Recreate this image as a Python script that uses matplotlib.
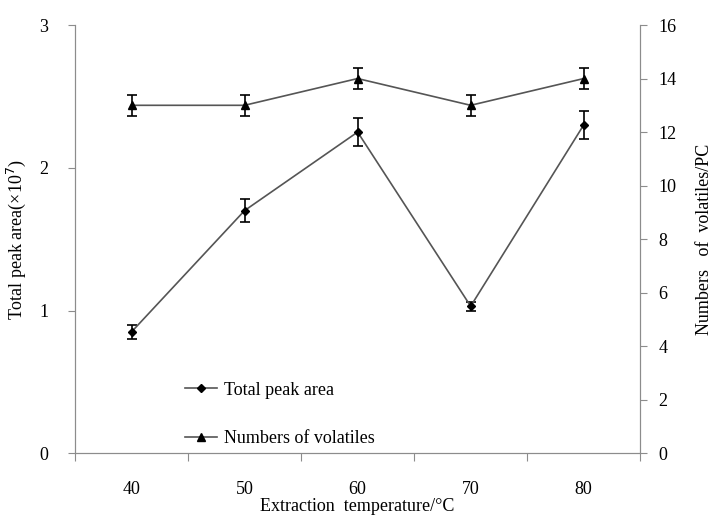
import matplotlib
matplotlib.use("Agg")
import matplotlib.pyplot as plt
from matplotlib.lines import Line2D
import numpy as np

# Extraction temperature series
temps = [40, 50, 60, 70, 80]
peak_area = [0.85, 1.70, 2.25, 1.03, 2.30]       # x10^7
peak_area_err = [0.05, 0.08, 0.10, 0.03, 0.10]
n_volatiles = [13, 13, 14, 13, 14]
n_volatiles_err = [0.4, 0.4, 0.4, 0.4, 0.4]

plt.rcParams["font.family"] = ["Liberation Serif", "DejaVu Serif"]
plt.rcParams["font.size"] = 13

AXIS_GREY = "#8c8c8c"
LINE_GREY = "#555555"

fig = plt.figure(figsize=(7.21, 5.21), dpi=100)
ax = fig.add_axes([0.104, 0.13, 0.784, 0.822])
ax2 = ax.twinx()

x = np.arange(len(temps))

ax.errorbar(x, peak_area, yerr=peak_area_err, color=LINE_GREY, lw=1.2,
            marker="D", ms=4.5, mfc="black", mec="black",
            ecolor="black", elinewidth=1.2, capsize=3.5, capthick=1.2)
ax2.errorbar(x, n_volatiles, yerr=n_volatiles_err, color=LINE_GREY, lw=1.2,
             marker="^", ms=6, mfc="black", mec="black",
             ecolor="black", elinewidth=1.2, capsize=3.5, capthick=1.2)

ax.set_xlim(-0.5, len(temps) - 0.5)
ax.set_ylim(0, 3)
ax.set_yticks([0, 1, 2, 3])
ax2.set_ylim(0, 16)
ax2.set_yticks(np.arange(0, 17, 2))

# category axis: ticks sit between categories, labels centred on them
ax.set_xticks(np.arange(-0.5, len(temps), 1.0))
ax.set_xticklabels([])
ax.set_xticks(x, minor=True)
ax.set_xticklabels([str(t) for t in temps], minor=True)
ax.tick_params(axis="x", which="minor", length=0, pad=20)
ax.tick_params(axis="x", which="major", length=6, direction="out",
               color=AXIS_GREY)

for a in (ax, ax2):
    a.spines["top"].set_visible(False)
    for side in ("left", "right", "bottom"):
        a.spines[side].set_color(AXIS_GREY)
ax.tick_params(axis="y", length=5, color=AXIS_GREY, pad=14)
ax2.tick_params(axis="y", length=5, color=AXIS_GREY, pad=8)

ax.set_xlabel("Extraction  temperature/°C", labelpad=0)
ax.set_ylabel("Total peak area(×10$^7$)", labelpad=8)
ax2.set_ylabel("Numbers   of  volatiles/PC", labelpad=14)

handles = [
    Line2D([], [], color=LINE_GREY, lw=1.2, marker="D", ms=4.5,
           mfc="black", mec="black"),
    Line2D([], [], color=LINE_GREY, lw=1.2, marker="^", ms=6,
           mfc="black", mec="black"),
]
ax.legend(handles, ["Total peak area", "Numbers of volatiles"],
          loc="upper left", bbox_to_anchor=(0.165, 0.205), frameon=False,
          handlelength=1.8, handletextpad=0.4, labelspacing=1.75, fontsize=13)

fig.savefig("out.png", dpi=100)
